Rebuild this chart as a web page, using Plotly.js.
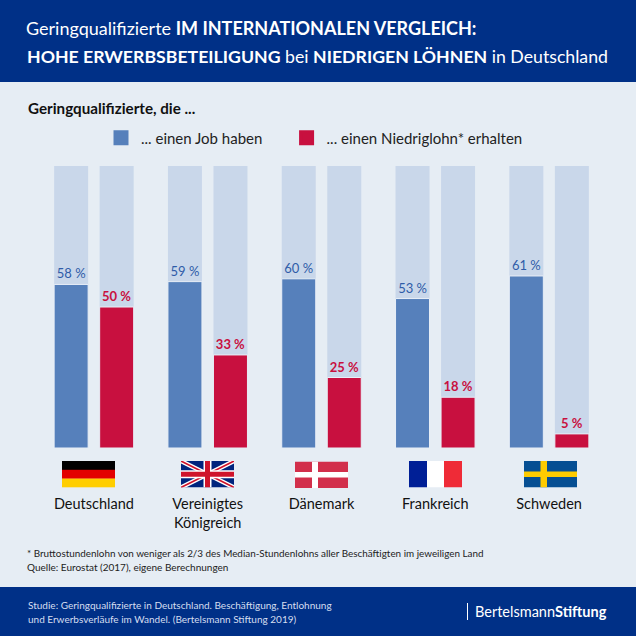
<!DOCTYPE html>
<html>
<head>
<meta charset="utf-8">
<script src="https://cdn.plot.ly/plotly-3.0.1.min.js"></script>
<style>html,body{margin:0;padding:0;background:#e6edf4}</style>
</head>
<body>
<div id="chart" style="width:636px;height:636px"></div>
<script>
const countries = ["Deutschland", "Vereinigtes<br>Königreich", "Dänemark", "Frankreich", "Schweden"];
const job_share = [58, 59, 60, 53, 61];
const low_wage_share = [50, 33, 25, 18, 5];
const full_share = [100, 100, 100, 100, 100];
const no_values = [null, null, null, null, null];

const job_color = "#5680bb";
const low_color = "#c8103f";
const back_color = "#c9d7ea";
const dark_blue = "#003087";
const font_name = "Lato, 'Open Sans', sans-serif";

const W = 636, H = 636;
const margin = {l: 37, r: 30, t: 166, b: 188};

// paper coordinates are relative to the plot area, so convert from picture pixels
const px_x = (x) => (x - margin.l) / (W - margin.l - margin.r);
const px_y = (y) => (H - margin.b - y) / (H - margin.t - margin.b);
const px_w = (w) => w / (W - margin.l - margin.r);
const px_h = (h) => h / (H - margin.t - margin.b);

const svg_flag = (inner) => "data:image/svg+xml;base64," + btoa(
    '<svg xmlns="http://www.w3.org/2000/svg" width="530" height="265" viewBox="0 0 53 26.5" preserveAspectRatio="none">' + inner + '</svg>');

const flag_list = [
    {left: 62, top: 461, svg: '<rect width="53" height="9" fill="#000"/><rect y="8.8" width="53" height="9" fill="#e30000"/><rect y="17.6" width="53" height="9" fill="#ffce00"/>'},
    {left: 181, top: 461, svg: '<rect width="53" height="26.5" fill="#00247d"/><path d="M0 0L53 26.5M53 0L0 26.5" stroke="#fff" stroke-width="4.4"/><path d="M0 0L53 26.5M53 0L0 26.5" stroke="#cf142b" stroke-width="1.6"/><path d="M26.5 0V26.5M0 13.25H53" stroke="#fff" stroke-width="8"/><path d="M26.5 0V26.5M0 13.25H53" stroke="#cf142b" stroke-width="5"/>'},
    {left: 295, top: 461.5, svg: '<rect width="53" height="26.5" fill="#d22f4b"/><rect x="17" width="6" height="26.5" fill="#fff"/><rect y="10.5" width="53" height="5.5" fill="#fff"/>'},
    {left: 409, top: 461, svg: '<rect width="18" height="26.5" fill="#001f96"/><rect x="18" width="17.5" height="26.5" fill="#fff"/><rect x="35" width="18" height="26.5" fill="#ef2b37"/>'},
    {left: 524, top: 461, svg: '<rect width="53" height="26.5" fill="#064f93"/><rect x="16.5" width="6.5" height="26.5" fill="#fecb00"/><rect y="10.5" width="53" height="5.5" fill="#fecb00"/>'},
];

const back_trace = (group) => ({
    type: "bar", x: countries, y: full_share, offsetgroup: group, showlegend: false,
    marker: {color: back_color}, hoverinfo: "skip"
});

const value_trace = (group, values, color, bold) => ({
    type: "bar", x: countries, y: values, offsetgroup: group, showlegend: false,
    marker: {color: color, line: {color: "#e9eff7", width: 1}},
    text: values.map(v => bold ? "<b>" + v + " %</b>" : v + " %"),
    textposition: "outside", cliponaxis: false, constraintext: "none",
    textfont: {family: font_name, size: 13, color: bold ? low_color : "#2f5ca8"}
});

// empty traces, only so the legend squares get the bigger size of the original
const legend_trace = (group, name, color) => ({
    type: "bar", x: countries, y: no_values, offsetgroup: group, name: name,
    marker: {color: color, line: {color: color, width: 3}}
});

const data = [
    back_trace("job"),
    back_trace("low"),
    value_trace("job", job_share, job_color, false),
    value_trace("low", low_wage_share, low_color, true),
    legend_trace("job", "... einen Job haben\u00a0\u00a0\u00a0\u00a0\u00a0", job_color),
    legend_trace("low", "... einen Niedriglohn* erhalten", low_color),
];

const note = (x, y, text, size, color, extra = {}) => Object.assign({
    xref: "paper", yref: "paper", x: px_x(x), y: px_y(y), text: text, showarrow: false,
    xanchor: "left", yanchor: "middle", align: "left",
    font: {family: font_name, size: size, color: color}
}, extra);

const layout = {
    width: W, height: H,
    margin: margin,
    paper_bgcolor: "#e6edf4", plot_bgcolor: "rgba(0,0,0,0)",
    font: {family: font_name},
    barmode: "group", bargap: 0.2, bargroupgap: 0.253,
    title: {
        text: "Geringqualifizierte <b>IM INTERNATIONALEN VERGLEICH:</b>",
        font: {family: font_name, size: 18, color: "#fff"},
        x: 26 / W, xanchor: "left", xref: "container",
        y: 1 - 29 / H, yanchor: "middle", yref: "container", automargin: false
    },
    xaxis: {
        type: "category", showgrid: false, zeroline: false, showline: false,
        ticks: "outside", ticklen: 43, tickcolor: "rgba(0,0,0,0)",
        tickfont: {family: font_name, size: 14.5, color: "#111"}, tickangle: 0
    },
    yaxis: {range: [0, 100], visible: false, fixedrange: true},
    legend: {
        orientation: "h", x: px_x(101), y: px_y(138), xanchor: "left", yanchor: "middle",
        font: {family: font_name, size: 15, color: "#222"},
        bgcolor: "rgba(0,0,0,0)", traceorder: "normal"
    },
    shapes: [
        {type: "rect", xref: "paper", yref: "paper", x0: px_x(0), x1: px_x(W), y0: px_y(82), y1: px_y(0), fillcolor: dark_blue, line: {width: 0}, layer: "below"},
        {type: "rect", xref: "paper", yref: "paper", x0: px_x(0), x1: px_x(W), y0: px_y(H), y1: px_y(587), fillcolor: dark_blue, line: {width: 0}, layer: "below"},
        {type: "line", xref: "paper", yref: "paper", x0: px_x(467.5), x1: px_x(467.5), y0: px_y(603), y1: px_y(620), line: {color: "#fff", width: 1}},
    ],
    images: flag_list.map(f => ({
        source: svg_flag(f.svg), xref: "paper", yref: "paper",
        x: px_x(f.left), y: px_y(f.top), sizex: px_w(53), sizey: px_h(26.5),
        xanchor: "left", yanchor: "top", sizing: "stretch", layer: "above"
    })),
    annotations: [
        note(25, 57, "<b>HOHE ERWERBSBETEILIGUNG</b> bei <b>NIEDRIGEN LÖHNEN</b> in Deutschland", 17.7, "#fff"),
        note(26, 108, "<b>Geringqualifizierte, die ...</b>", 15.2, "#111"),
        note(25, 553, "* Bruttostundenlohn von weniger als 2/3 des Median-Stundenlohns aller Beschäftigten im jeweiligen Land", 9.9, "#222"),
        note(25, 567, "Quelle: Eurostat (2017), eigene Berechnungen", 10, "#222"),
        note(26, 605, "Studie: Geringqualifizierte in Deutschland. Beschäftigung, Entlohnung", 10, "#d5def0"),
        note(26, 619, "und Erwerbsverläufe im Wandel. (Bertelsmann Stiftung 2019)", 10, "#d5def0"),
        note(473, 611, "Bertelsmann<b>Stiftung</b>", 14.5, "#fff"),
    ]
};

Plotly.newPlot("chart", data, layout, {displayModeBar: false, staticPlot: true});
</script>
</body>
</html>
